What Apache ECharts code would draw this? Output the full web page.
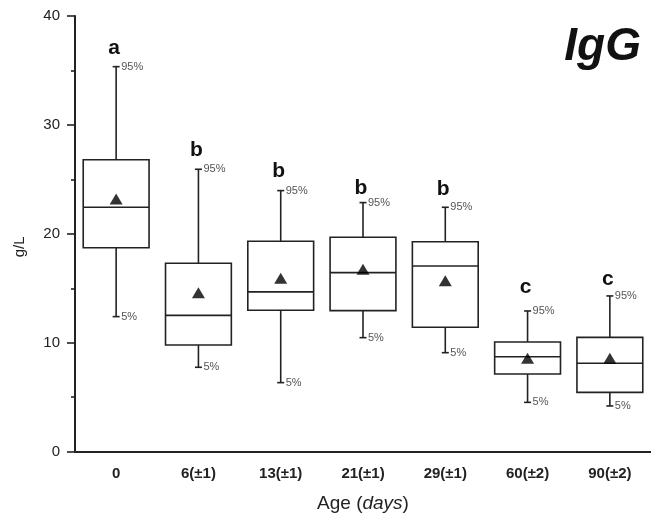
<!DOCTYPE html>
<html>
<head>
<meta charset="utf-8">
<script src="https://cdn.jsdelivr.net/npm/echarts@6/dist/echarts.min.js"></script>
<style>html,body{margin:0;padding:0;background:#fff}#c{width:651px;height:521px}</style>
</head>
<body>
<div id="c"></div>
<script>
const categories = ['0', '6(±1)', '13(±1)', '21(±1)', '29(±1)', '60(±2)', '90(±2)'];
const p5     = [12.4, 7.75, 6.34, 10.47, 9.09, 4.53, 4.2];
const q1     = [18.73, 9.8, 12.98, 12.95, 11.42, 7.13, 5.45];
const median = [22.44, 12.52, 14.67, 16.44, 17.05, 8.72, 8.12];
const q3     = [26.8, 17.3, 19.32, 19.69, 19.28, 10.07, 10.5];
const p95    = [35.35, 25.93, 23.97, 22.87, 22.44, 12.92, 14.3];
const means  = [23.2, 14.6, 15.92, 16.75, 15.7, 8.58, 8.58];
const groups = ['a', 'b', 'b', 'b', 'b', 'c', 'c'];
const groupY = [36.5, 27.15, 25.25, 23.73, 23.57, 14.6, 15.3];
const yTicks = [0, 10, 20, 30, 40];

const ink = '#222';
const boxData = categories.map((c, i) => [i, p5[i], q1[i], median[i], q3[i], p95[i]]);

function renderBox(params, api) {
  const i = api.value(0);
  const cx = api.coord([i, 0])[0];
  const band = api.size([1, 0])[0];
  const w = band * 0.8;
  const yLo = api.coord([i, api.value(1)])[1];
  const yQ1 = api.coord([i, api.value(2)])[1];
  const yMed = api.coord([i, api.value(3)])[1];
  const yQ3 = api.coord([i, api.value(4)])[1];
  const yHi = api.coord([i, api.value(5)])[1];
  const cap = 3.5;
  const ls = { stroke: ink, lineWidth: 1.6 };
  return {
    type: 'group',
    children: [
      { type: 'line', shape: { x1: cx, y1: yQ3, x2: cx, y2: yHi }, style: ls },
      { type: 'line', shape: { x1: cx - cap, y1: yHi, x2: cx + cap, y2: yHi }, style: ls },
      { type: 'line', shape: { x1: cx, y1: yQ1, x2: cx, y2: yLo }, style: ls },
      { type: 'line', shape: { x1: cx - cap, y1: yLo, x2: cx + cap, y2: yLo }, style: ls },
      { type: 'rect', shape: { x: cx - w / 2, y: yQ3, width: w, height: yQ1 - yQ3 }, style: { fill: '#fff', stroke: ink, lineWidth: 1.6 } },
      { type: 'line', shape: { x1: cx - w / 2, y1: yMed, x2: cx + w / 2, y2: yMed }, style: ls },
      { type: 'text', x: cx + cap + 1.5, y: yHi, style: { text: '95%', fill: '#555', fontSize: 11, fontFamily: 'Liberation Sans, Arial', align: 'left', verticalAlign: 'middle' } },
      { type: 'text', x: cx + cap + 1.5, y: yLo, style: { text: '5%', fill: '#555', fontSize: 11, fontFamily: 'Liberation Sans, Arial', align: 'left', verticalAlign: 'middle' } }
    ]
  };
}

function renderLetter(params, api) {
  const i = api.value(0);
  const p = api.coord([i, api.value(1)]);
  return {
    type: 'text', x: p[0] - 2, y: p[1] + 5,
    style: { text: groups[i], fill: '#111', fontSize: 21, fontWeight: 'bold', fontFamily: 'Liberation Sans, Arial', align: 'center', verticalAlign: 'bottom' }
  };
}

const chart = echarts.init(document.getElementById('c'), null, { renderer: 'canvas' });
chart.setOption({
  animation: false,
  backgroundColor: '#fff',
  textStyle: { fontFamily: 'Liberation Sans, Arial' },
  title: {
    text: 'IgG', right: 5, top: 19,
    textStyle: { fontSize: 46, fontWeight: 'bold', fontStyle: 'italic', color: '#111', fontFamily: 'Liberation Sans, Arial' }
  },
  grid: { left: 75, top: 16, width: 584.5, height: 435.7, containLabel: false },
  xAxis: {
    type: 'category', data: categories,
    axisLine: { lineStyle: { color: ink, width: 2 } },
    axisTick: { alignWithLabel: true, length: 8, lineStyle: { color: ink, width: 1.6 } },
    axisLabel: { fontSize: 15, fontWeight: 'bold', color: '#222', margin: 15 },
    name: 'Age ({i|days})', nameLocation: 'middle', nameGap: 43,
    nameTextStyle: { fontSize: 19, color: '#222', rich: { i: { fontSize: 19, fontStyle: 'italic', color: '#222' } } }
  },
  yAxis: {
    type: 'value', min: yTicks[0], max: yTicks[yTicks.length - 1], interval: 10,
    axisLine: { show: true, lineStyle: { color: ink, width: 2 } },
    axisTick: { show: true, length: 8, lineStyle: { color: ink, width: 1.6 } },
    minorTick: { show: true, splitNumber: 2, length: 4, lineStyle: { color: ink, width: 1.6 } },
    splitLine: { show: false },
    axisLabel: { fontSize: 15, color: '#222', margin: 15 },
    name: 'g/L', nameLocation: 'middle', nameGap: 48, nameRotate: 90,
    nameTextStyle: { fontSize: 15, color: '#222', padding: [0, 26, 0, 0] }
  },
  series: [
    { type: 'custom', renderItem: renderBox, data: boxData, z: 2 },
    {
      type: 'scatter', data: categories.map((c, i) => [i, means[i]]),
      symbol: 'triangle', symbolSize: [13, 11], itemStyle: { color: '#000' }, z: 5
    },
    { type: 'custom', renderItem: renderLetter, data: categories.map((c, i) => [i, groupY[i]]), z: 6 }
  ]
});
</script>
</body>
</html>
